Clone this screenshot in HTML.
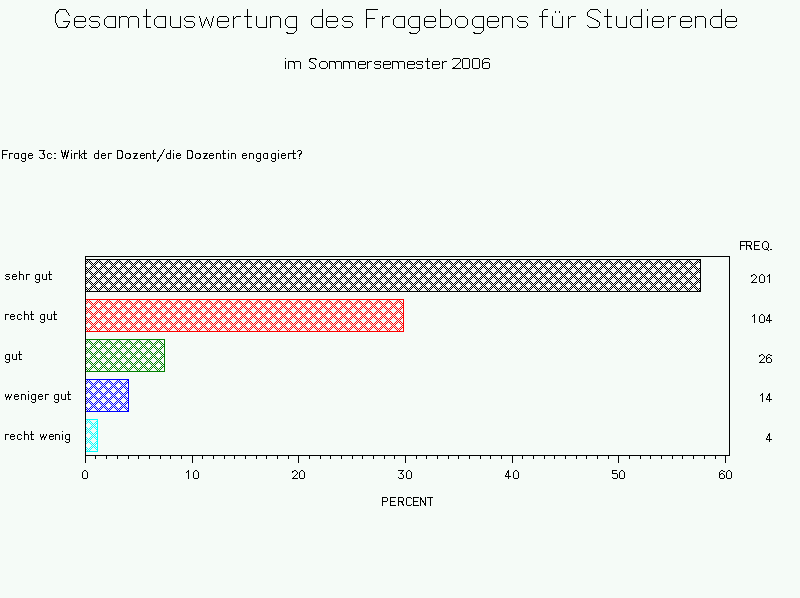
<!DOCTYPE html>
<html><head><meta charset="utf-8"><style>
html,body{margin:0;padding:0;background:#f5fbf7;width:800px;height:598px;overflow:hidden}
svg{display:block}
</style></head><body>
<svg width="800" height="598" viewBox="0 0 800 598" shape-rendering="crispEdges">
<defs><pattern id="p0" patternUnits="userSpaceOnUse" x="0" y="0" width="10" height="10"><path d="M7 0h1v1h-1zM9 0h1v1h-1zM0 1h1v1h-1zM6 1h1v1h-1zM8 1h1v1h-1zM1 2h1v1h-1zM5 2h1v1h-1zM7 2h1v1h-1zM9 2h1v1h-1zM0 3h1v1h-1zM2 3h1v1h-1zM4 3h1v1h-1zM6 3h1v1h-1zM1 4h1v1h-1zM3 4h1v1h-1zM5 4h1v1h-1zM2 5h1v1h-1zM4 5h1v1h-1zM1 6h1v1h-1zM3 6h1v1h-1zM5 6h1v1h-1zM0 7h1v1h-1zM2 7h1v1h-1zM4 7h1v1h-1zM6 7h1v1h-1zM1 8h1v1h-1zM5 8h1v1h-1zM7 8h1v1h-1zM9 8h1v1h-1zM0 9h1v1h-1zM6 9h1v1h-1zM8 9h1v1h-1z" fill="#000000"/></pattern><pattern id="p1" patternUnits="userSpaceOnUse" x="0" y="0" width="10" height="10"><path d="M7 0h1v1h-1zM9 0h1v1h-1zM0 1h1v1h-1zM6 1h1v1h-1zM8 1h1v1h-1zM1 2h1v1h-1zM5 2h1v1h-1zM7 2h1v1h-1zM9 2h1v1h-1zM0 3h1v1h-1zM2 3h1v1h-1zM4 3h1v1h-1zM6 3h1v1h-1zM1 4h1v1h-1zM3 4h1v1h-1zM5 4h1v1h-1zM2 5h1v1h-1zM4 5h1v1h-1zM1 6h1v1h-1zM3 6h1v1h-1zM5 6h1v1h-1zM0 7h1v1h-1zM2 7h1v1h-1zM4 7h1v1h-1zM6 7h1v1h-1zM1 8h1v1h-1zM5 8h1v1h-1zM7 8h1v1h-1zM9 8h1v1h-1zM0 9h1v1h-1zM6 9h1v1h-1zM8 9h1v1h-1z" fill="#ff0000"/></pattern><pattern id="p2" patternUnits="userSpaceOnUse" x="0" y="0" width="10" height="10"><path d="M7 0h1v1h-1zM9 0h1v1h-1zM0 1h1v1h-1zM6 1h1v1h-1zM8 1h1v1h-1zM1 2h1v1h-1zM5 2h1v1h-1zM7 2h1v1h-1zM9 2h1v1h-1zM0 3h1v1h-1zM2 3h1v1h-1zM4 3h1v1h-1zM6 3h1v1h-1zM1 4h1v1h-1zM3 4h1v1h-1zM5 4h1v1h-1zM2 5h1v1h-1zM4 5h1v1h-1zM1 6h1v1h-1zM3 6h1v1h-1zM5 6h1v1h-1zM0 7h1v1h-1zM2 7h1v1h-1zM4 7h1v1h-1zM6 7h1v1h-1zM1 8h1v1h-1zM5 8h1v1h-1zM7 8h1v1h-1zM9 8h1v1h-1zM0 9h1v1h-1zM6 9h1v1h-1zM8 9h1v1h-1z" fill="#008000"/></pattern><pattern id="p3" patternUnits="userSpaceOnUse" x="0" y="0" width="10" height="10"><path d="M7 0h1v1h-1zM9 0h1v1h-1zM0 1h1v1h-1zM6 1h1v1h-1zM8 1h1v1h-1zM1 2h1v1h-1zM5 2h1v1h-1zM7 2h1v1h-1zM9 2h1v1h-1zM0 3h1v1h-1zM2 3h1v1h-1zM4 3h1v1h-1zM6 3h1v1h-1zM1 4h1v1h-1zM3 4h1v1h-1zM5 4h1v1h-1zM2 5h1v1h-1zM4 5h1v1h-1zM1 6h1v1h-1zM3 6h1v1h-1zM5 6h1v1h-1zM0 7h1v1h-1zM2 7h1v1h-1zM4 7h1v1h-1zM6 7h1v1h-1zM1 8h1v1h-1zM5 8h1v1h-1zM7 8h1v1h-1zM9 8h1v1h-1zM0 9h1v1h-1zM6 9h1v1h-1zM8 9h1v1h-1z" fill="#0000ff"/></pattern><pattern id="p4" patternUnits="userSpaceOnUse" x="0" y="0" width="10" height="10"><path d="M7 0h1v1h-1zM9 0h1v1h-1zM0 1h1v1h-1zM6 1h1v1h-1zM8 1h1v1h-1zM1 2h1v1h-1zM5 2h1v1h-1zM7 2h1v1h-1zM9 2h1v1h-1zM0 3h1v1h-1zM2 3h1v1h-1zM4 3h1v1h-1zM6 3h1v1h-1zM1 4h1v1h-1zM3 4h1v1h-1zM5 4h1v1h-1zM2 5h1v1h-1zM4 5h1v1h-1zM1 6h1v1h-1zM3 6h1v1h-1zM5 6h1v1h-1zM0 7h1v1h-1zM2 7h1v1h-1zM4 7h1v1h-1zM6 7h1v1h-1zM1 8h1v1h-1zM5 8h1v1h-1zM7 8h1v1h-1zM9 8h1v1h-1zM0 9h1v1h-1zM6 9h1v1h-1zM8 9h1v1h-1z" fill="#00ffff"/></pattern></defs>
<rect width="800" height="598" fill="#f5fbf7"/>
<rect x="86" y="260" width="614" height="31" fill="url(#p0)"/><path d="M85 259h616v33h-616z M86 260v31h614v-31z" fill="#000000" fill-rule="evenodd"/><rect x="86" y="300" width="317" height="31" fill="url(#p1)"/><path d="M85 299h319v33h-319z M86 300v31h317v-31z" fill="#ff0000" fill-rule="evenodd"/><rect x="86" y="340" width="78" height="31" fill="url(#p2)"/><path d="M85 339h80v33h-80z M86 340v31h78v-31z" fill="#008000" fill-rule="evenodd"/><rect x="86" y="380" width="42" height="31" fill="url(#p3)"/><path d="M85 379h44v33h-44z M86 380v31h42v-31z" fill="#0000ff" fill-rule="evenodd"/><rect x="86" y="420" width="11" height="31" fill="url(#p4)"/><path d="M85 419h13v33h-13z M86 420v31h11v-31z" fill="#00ffff" fill-rule="evenodd"/>
<path d="M85 256h645v200h-645z M86 257v198h643v-198z" fill="#000" fill-rule="evenodd"/>
<path d="M85 456h1v7h-1zM95 456h1v3h-1zM106 456h1v3h-1zM117 456h1v3h-1zM128 456h1v3h-1zM138 456h1v3h-1zM149 456h1v3h-1zM160 456h1v3h-1zM170 456h1v3h-1zM181 456h1v3h-1zM192 456h1v7h-1zM202 456h1v3h-1zM213 456h1v3h-1zM224 456h1v3h-1zM234 456h1v3h-1zM245 456h1v3h-1zM256 456h1v3h-1zM266 456h1v3h-1zM277 456h1v3h-1zM288 456h1v3h-1zM298 456h1v7h-1zM309 456h1v3h-1zM320 456h1v3h-1zM330 456h1v3h-1zM341 456h1v3h-1zM352 456h1v3h-1zM362 456h1v3h-1zM373 456h1v3h-1zM384 456h1v3h-1zM394 456h1v3h-1zM405 456h1v7h-1zM416 456h1v3h-1zM426 456h1v3h-1zM437 456h1v3h-1zM448 456h1v3h-1zM458 456h1v3h-1zM469 456h1v3h-1zM480 456h1v3h-1zM490 456h1v3h-1zM501 456h1v3h-1zM512 456h1v7h-1zM522 456h1v3h-1zM533 456h1v3h-1zM544 456h1v3h-1zM554 456h1v3h-1zM565 456h1v3h-1zM576 456h1v3h-1zM586 456h1v3h-1zM597 456h1v3h-1zM608 456h1v3h-1zM618 456h1v7h-1zM629 456h1v3h-1zM640 456h1v3h-1zM650 456h1v3h-1zM661 456h1v3h-1zM672 456h1v3h-1zM682 456h1v3h-1zM693 456h1v3h-1zM704 456h1v3h-1zM715 456h1v3h-1zM725 456h1v7h-1z" fill="#000"/>
<path d="M453 58h7v1h-7zM452 59h1v1h-1zM460 59h1v1h-1zM460 60h1v1h-1zM460 61h1v1h-1zM459 62h1v1h-1zM458 63h1v1h-1zM457 64h1v1h-1zM456 65h1v1h-1zM455 66h1v1h-1zM453 67h2v1h-2zM452 68h9v1h-9zM463 58h6v1h-6zM462 59h1v1h-1zM469 59h1v1h-1zM462 60h1v1h-1zM469 60h1v1h-1zM462 61h1v1h-1zM469 61h1v1h-1zM462 62h1v1h-1zM469 62h1v1h-1zM462 63h1v1h-1zM469 63h1v1h-1zM462 64h1v1h-1zM469 64h1v1h-1zM462 65h1v1h-1zM469 65h1v1h-1zM462 66h1v1h-1zM469 66h1v1h-1zM462 67h1v1h-1zM469 67h1v1h-1zM463 68h6v1h-6zM473 58h6v1h-6zM472 59h1v1h-1zM479 59h1v1h-1zM472 60h1v1h-1zM479 60h1v1h-1zM472 61h1v1h-1zM479 61h1v1h-1zM472 62h1v1h-1zM479 62h1v1h-1zM472 63h1v1h-1zM479 63h1v1h-1zM472 64h1v1h-1zM479 64h1v1h-1zM472 65h1v1h-1zM479 65h1v1h-1zM472 66h1v1h-1zM479 66h1v1h-1zM472 67h1v1h-1zM479 67h1v1h-1zM473 68h6v1h-6zM484 58h5v1h-5zM483 59h1v1h-1zM489 59h1v1h-1zM482 60h1v1h-1zM482 61h1v1h-1zM482 62h1v1h-1zM484 62h5v1h-5zM482 63h2v1h-2zM489 63h1v1h-1zM482 64h1v1h-1zM489 64h1v1h-1zM482 65h1v1h-1zM489 65h1v1h-1zM482 66h1v1h-1zM489 66h1v1h-1zM482 67h1v1h-1zM489 67h1v1h-1zM483 68h6v1h-6zM753 274h2v1h-2zM751 275h2v1h-2zM755 275h1v1h-1zM751 276h1v1h-1zM756 276h1v1h-1zM756 277h1v1h-1zM755 278h1v1h-1zM754 279h1v1h-1zM753 280h1v1h-1zM752 281h1v1h-1zM751 282h6v1h-6zM761 274h2v1h-2zM760 275h1v1h-1zM763 275h1v1h-1zM759 276h1v1h-1zM764 276h1v1h-1zM759 277h1v1h-1zM764 277h1v1h-1zM759 278h1v1h-1zM764 278h1v1h-1zM759 279h1v1h-1zM764 279h1v1h-1zM759 280h1v1h-1zM764 280h1v1h-1zM759 281h1v1h-1zM764 281h1v1h-1zM760 282h4v1h-4zM769 274h1v1h-1zM768 275h2v1h-2zM767 276h1v1h-1zM769 276h1v1h-1zM769 277h1v1h-1zM769 278h1v1h-1zM769 279h1v1h-1zM769 280h1v1h-1zM769 281h1v1h-1zM769 282h1v1h-1zM754 314h1v1h-1zM753 315h2v1h-2zM752 316h1v1h-1zM754 316h1v1h-1zM754 317h1v1h-1zM754 318h1v1h-1zM754 319h1v1h-1zM754 320h1v1h-1zM754 321h1v1h-1zM754 322h1v1h-1zM761 314h2v1h-2zM760 315h1v1h-1zM763 315h1v1h-1zM759 316h1v1h-1zM764 316h1v1h-1zM759 317h1v1h-1zM764 317h1v1h-1zM759 318h1v1h-1zM764 318h1v1h-1zM759 319h1v1h-1zM764 319h1v1h-1zM759 320h1v1h-1zM764 320h1v1h-1zM759 321h1v1h-1zM764 321h1v1h-1zM760 322h4v1h-4zM769 314h1v1h-1zM768 315h2v1h-2zM768 316h2v1h-2zM767 317h1v1h-1zM769 317h1v1h-1zM767 318h1v1h-1zM769 318h1v1h-1zM766 319h1v1h-1zM769 319h1v1h-1zM766 320h6v1h-6zM769 321h1v1h-1zM769 322h1v1h-1zM761 354h2v1h-2zM759 355h2v1h-2zM763 355h1v1h-1zM759 356h1v1h-1zM764 356h1v1h-1zM764 357h1v1h-1zM763 358h1v1h-1zM762 359h1v1h-1zM761 360h1v1h-1zM760 361h1v1h-1zM759 362h6v1h-6zM768 354h2v1h-2zM767 355h1v1h-1zM770 355h2v1h-2zM766 356h1v1h-1zM766 357h1v1h-1zM768 357h2v1h-2zM766 358h2v1h-2zM770 358h1v1h-1zM766 359h1v1h-1zM771 359h1v1h-1zM766 360h1v1h-1zM771 360h1v1h-1zM766 361h1v1h-1zM771 361h1v1h-1zM767 362h4v1h-4zM762 393h1v1h-1zM761 394h2v1h-2zM760 395h1v1h-1zM762 395h1v1h-1zM762 396h1v1h-1zM762 397h1v1h-1zM762 398h1v1h-1zM762 399h1v1h-1zM762 400h1v1h-1zM762 401h1v1h-1zM769 393h1v1h-1zM768 394h2v1h-2zM768 395h2v1h-2zM767 396h1v1h-1zM769 396h1v1h-1zM767 397h1v1h-1zM769 397h1v1h-1zM766 398h1v1h-1zM769 398h1v1h-1zM766 399h6v1h-6zM769 400h1v1h-1zM769 401h1v1h-1zM769 433h1v1h-1zM768 434h2v1h-2zM768 435h2v1h-2zM767 436h1v1h-1zM769 436h1v1h-1zM767 437h1v1h-1zM769 437h1v1h-1zM766 438h1v1h-1zM769 438h1v1h-1zM766 439h6v1h-6zM769 440h1v1h-1zM769 441h1v1h-1zM84 470h2v1h-2zM83 471h1v1h-1zM86 471h1v1h-1zM82 472h1v1h-1zM87 472h1v1h-1zM82 473h1v1h-1zM87 473h1v1h-1zM82 474h1v1h-1zM87 474h1v1h-1zM82 475h1v1h-1zM87 475h1v1h-1zM82 476h1v1h-1zM87 476h1v1h-1zM82 477h1v1h-1zM87 477h1v1h-1zM83 478h4v1h-4zM188 470h1v1h-1zM187 471h2v1h-2zM186 472h1v1h-1zM188 472h1v1h-1zM188 473h1v1h-1zM188 474h1v1h-1zM188 475h1v1h-1zM188 476h1v1h-1zM188 477h1v1h-1zM188 478h1v1h-1zM195 470h2v1h-2zM194 471h1v1h-1zM197 471h1v1h-1zM193 472h1v1h-1zM198 472h1v1h-1zM193 473h1v1h-1zM198 473h1v1h-1zM193 474h1v1h-1zM198 474h1v1h-1zM193 475h1v1h-1zM198 475h1v1h-1zM193 476h1v1h-1zM198 476h1v1h-1zM193 477h1v1h-1zM198 477h1v1h-1zM194 478h4v1h-4zM294 470h2v1h-2zM292 471h2v1h-2zM296 471h1v1h-1zM292 472h1v1h-1zM297 472h1v1h-1zM297 473h1v1h-1zM296 474h1v1h-1zM295 475h1v1h-1zM294 476h1v1h-1zM293 477h1v1h-1zM292 478h6v1h-6zM301 470h2v1h-2zM300 471h1v1h-1zM303 471h1v1h-1zM299 472h1v1h-1zM304 472h1v1h-1zM299 473h1v1h-1zM304 473h1v1h-1zM299 474h1v1h-1zM304 474h1v1h-1zM299 475h1v1h-1zM304 475h1v1h-1zM299 476h1v1h-1zM304 476h1v1h-1zM299 477h1v1h-1zM304 477h1v1h-1zM300 478h4v1h-4zM398 470h6v1h-6zM402 471h1v1h-1zM401 472h1v1h-1zM400 473h2v1h-2zM402 474h1v1h-1zM403 475h1v1h-1zM403 476h1v1h-1zM398 477h1v1h-1zM403 477h1v1h-1zM399 478h4v1h-4zM408 470h2v1h-2zM407 471h1v1h-1zM410 471h1v1h-1zM406 472h1v1h-1zM411 472h1v1h-1zM406 473h1v1h-1zM411 473h1v1h-1zM406 474h1v1h-1zM411 474h1v1h-1zM406 475h1v1h-1zM411 475h1v1h-1zM406 476h1v1h-1zM411 476h1v1h-1zM406 477h1v1h-1zM411 477h1v1h-1zM407 478h4v1h-4zM508 470h1v1h-1zM507 471h2v1h-2zM507 472h2v1h-2zM506 473h1v1h-1zM508 473h1v1h-1zM506 474h1v1h-1zM508 474h1v1h-1zM505 475h1v1h-1zM508 475h1v1h-1zM505 476h6v1h-6zM508 477h1v1h-1zM508 478h1v1h-1zM515 470h2v1h-2zM514 471h1v1h-1zM517 471h1v1h-1zM513 472h1v1h-1zM518 472h1v1h-1zM513 473h1v1h-1zM518 473h1v1h-1zM513 474h1v1h-1zM518 474h1v1h-1zM513 475h1v1h-1zM518 475h1v1h-1zM513 476h1v1h-1zM518 476h1v1h-1zM513 477h1v1h-1zM518 477h1v1h-1zM514 478h4v1h-4zM612 470h5v1h-5zM612 471h1v1h-1zM612 472h1v1h-1zM612 473h5v1h-5zM617 474h1v1h-1zM617 475h1v1h-1zM617 476h1v1h-1zM612 477h1v1h-1zM617 477h1v1h-1zM613 478h4v1h-4zM621 470h2v1h-2zM620 471h1v1h-1zM623 471h1v1h-1zM619 472h1v1h-1zM624 472h1v1h-1zM619 473h1v1h-1zM624 473h1v1h-1zM619 474h1v1h-1zM624 474h1v1h-1zM619 475h1v1h-1zM624 475h1v1h-1zM619 476h1v1h-1zM624 476h1v1h-1zM619 477h1v1h-1zM624 477h1v1h-1zM620 478h4v1h-4zM721 470h2v1h-2zM720 471h1v1h-1zM723 471h2v1h-2zM719 472h1v1h-1zM719 473h1v1h-1zM721 473h2v1h-2zM719 474h2v1h-2zM723 474h1v1h-1zM719 475h1v1h-1zM724 475h1v1h-1zM719 476h1v1h-1zM724 476h1v1h-1zM719 477h1v1h-1zM724 477h1v1h-1zM720 478h4v1h-4zM728 470h2v1h-2zM727 471h1v1h-1zM730 471h1v1h-1zM726 472h1v1h-1zM731 472h1v1h-1zM726 473h1v1h-1zM731 473h1v1h-1zM726 474h1v1h-1zM731 474h1v1h-1zM726 475h1v1h-1zM731 475h1v1h-1zM726 476h1v1h-1zM731 476h1v1h-1zM726 477h1v1h-1zM731 477h1v1h-1zM727 478h4v1h-4z" fill="#000"/>
<path d="M69.5 15.5L65.5 9.5L59.5 9.5L55.5 14.5L55.5 22.5L58.5 27.5L66.5 27.5L69.5 22.5L69.5 21.5L63.5 21.5M85.5 25.5L83.5 27.5L76.5 27.5L74.5 25.5L74.5 18.5L76.5 16.5L83.5 16.5L85.5 18.5L85.5 21.5L74.5 21.5M99.5 17.5L98.5 16.5L91.5 16.5L89.5 18.5L89.5 19.5L91.5 21.5L97.5 21.5L99.5 23.5L99.5 25.5L97.5 27.5L91.5 27.5L89.5 25.5M115.5 16.5L107.5 16.5L104.5 19.5L104.5 24.5L107.5 27.5L115.5 27.5M115.5 16.5L115.5 27.5M119.5 27.5L119.5 16.5M119.5 18.5L121.5 16.5L126.5 16.5L128.5 18.5L128.5 27.5M128.5 18.5L130.5 16.5L136.5 16.5L138.5 18.5L138.5 27.5M146.5 9.5L146.5 27.5L150.5 27.5M143.5 16.5L150.5 16.5M165.5 16.5L157.5 16.5L154.5 19.5L154.5 24.5L157.5 27.5L165.5 27.5M165.5 16.5L165.5 27.5M170.5 16.5L170.5 25.5L172.5 27.5L180.5 27.5M180.5 16.5L180.5 27.5M194.5 17.5L193.5 16.5L186.5 16.5L184.5 18.5L184.5 19.5L186.5 21.5L192.5 21.5L194.5 23.5L194.5 25.5L192.5 27.5L186.5 27.5L184.5 25.5M199.5 16.5L202.5 27.5L206.5 17.5L210.5 27.5L213.5 16.5M228.5 25.5L226.5 27.5L219.5 27.5L217.5 25.5L217.5 18.5L219.5 16.5L226.5 16.5L228.5 18.5L228.5 21.5L217.5 21.5M233.5 27.5L233.5 16.5M233.5 19.5L236.5 16.5L240.5 16.5M247.5 9.5L247.5 27.5L251.5 27.5M244.5 16.5L251.5 16.5M256.5 16.5L256.5 25.5L258.5 27.5L266.5 27.5M266.5 16.5L266.5 27.5M270.5 27.5L270.5 16.5M270.5 18.5L272.5 16.5L278.5 16.5L280.5 18.5L280.5 27.5M296.5 16.5L288.5 16.5L285.5 19.5L285.5 24.5L288.5 27.5L296.5 27.5M296.5 16.5L296.5 30.5L293.5 33.5L288.5 33.5L286.5 32.5M322.5 9.5L322.5 27.5M322.5 16.5L314.5 16.5L311.5 19.5L311.5 24.5L314.5 27.5L322.5 27.5M337.5 25.5L335.5 27.5L328.5 27.5L326.5 25.5L326.5 18.5L328.5 16.5L335.5 16.5L337.5 18.5L337.5 21.5L326.5 21.5M352.5 17.5L351.5 16.5L344.5 16.5L342.5 18.5L342.5 19.5L344.5 21.5L350.5 21.5L352.5 23.5L352.5 25.5L350.5 27.5L344.5 27.5L342.5 25.5M377.5 9.5L366.5 9.5L366.5 27.5M366.5 18.5L374.5 18.5M382.5 27.5L382.5 16.5M382.5 19.5L385.5 16.5L389.5 16.5M404.5 16.5L396.5 16.5L393.5 19.5L393.5 24.5L396.5 27.5L404.5 27.5M404.5 16.5L404.5 27.5M419.5 16.5L411.5 16.5L408.5 19.5L408.5 24.5L411.5 27.5L419.5 27.5M419.5 16.5L419.5 30.5L416.5 33.5L411.5 33.5L409.5 32.5M435.5 25.5L433.5 27.5L426.5 27.5L424.5 25.5L424.5 18.5L426.5 16.5L433.5 16.5L435.5 18.5L435.5 21.5L424.5 21.5M440.5 9.5L440.5 27.5M440.5 16.5L448.5 16.5L451.5 19.5L451.5 24.5L448.5 27.5L440.5 27.5M458.5 16.5L464.5 16.5L467.5 19.5L467.5 24.5L464.5 27.5L458.5 27.5L455.5 24.5L455.5 19.5L458.5 16.5M483.5 16.5L475.5 16.5L472.5 19.5L472.5 24.5L475.5 27.5L483.5 27.5M483.5 16.5L483.5 30.5L480.5 33.5L475.5 33.5L473.5 32.5M498.5 25.5L496.5 27.5L489.5 27.5L487.5 25.5L487.5 18.5L489.5 16.5L496.5 16.5L498.5 18.5L498.5 21.5L487.5 21.5M502.5 27.5L502.5 16.5M502.5 18.5L504.5 16.5L510.5 16.5L512.5 18.5L512.5 27.5M527.5 17.5L526.5 16.5L519.5 16.5L517.5 18.5L517.5 19.5L519.5 21.5L525.5 21.5L527.5 23.5L527.5 25.5L525.5 27.5L519.5 27.5L517.5 25.5M542.5 27.5L542.5 11.5L544.5 9.5L547.5 9.5M539.5 16.5L547.5 16.5M552.5 16.5L552.5 25.5L554.5 27.5L562.5 27.5M562.5 16.5L562.5 27.5M555.5 12.5L555.5 11.5M559.5 12.5L559.5 11.5M568.5 27.5L568.5 16.5M568.5 19.5L571.5 16.5L575.5 16.5M600.5 12.5L597.5 9.5L590.5 9.5L587.5 12.5L587.5 15.5L588.5 16.5L595.5 19.5L599.5 22.5L599.5 25.5L597.5 27.5L589.5 27.5L587.5 25.5M607.5 9.5L607.5 27.5L611.5 27.5M604.5 16.5L611.5 16.5M616.5 16.5L616.5 25.5L618.5 27.5L626.5 27.5M626.5 16.5L626.5 27.5M641.5 9.5L641.5 27.5M641.5 16.5L633.5 16.5L630.5 19.5L630.5 24.5L633.5 27.5L641.5 27.5M647.5 27.5L647.5 16.5M647.5 10.5L647.5 9.5M663.5 25.5L661.5 27.5L654.5 27.5L652.5 25.5L652.5 18.5L654.5 16.5L661.5 16.5L663.5 18.5L663.5 21.5L652.5 21.5M668.5 27.5L668.5 16.5M668.5 19.5L671.5 16.5L675.5 16.5M691.5 25.5L689.5 27.5L682.5 27.5L680.5 25.5L680.5 18.5L682.5 16.5L689.5 16.5L691.5 18.5L691.5 21.5L680.5 21.5M695.5 27.5L695.5 16.5M695.5 18.5L697.5 16.5L703.5 16.5L705.5 18.5L705.5 27.5M721.5 9.5L721.5 27.5M721.5 16.5L713.5 16.5L710.5 19.5L710.5 24.5L713.5 27.5L721.5 27.5M736.5 25.5L734.5 27.5L727.5 27.5L725.5 25.5L725.5 18.5L727.5 16.5L734.5 16.5L736.5 18.5L736.5 21.5L725.5 21.5M285.5 68.5L285.5 61.5M285.5 58.5L285.5 58.5M288.5 68.5L288.5 61.5M288.5 62.5L289.5 61.5L292.5 61.5L294.5 62.5L294.5 68.5M294.5 62.5L295.5 61.5L299.5 61.5L300.5 62.5L300.5 68.5M316.5 59.5L314.5 58.5L311.5 58.5L309.5 59.5L309.5 61.5L310.5 61.5L313.5 63.5L315.5 65.5L315.5 67.5L314.5 68.5L310.5 68.5L309.5 67.5M321.5 61.5L325.5 61.5L327.5 63.5L327.5 66.5L325.5 68.5L321.5 68.5L319.5 66.5L319.5 63.5L321.5 61.5M329.5 68.5L329.5 61.5M329.5 62.5L330.5 61.5L333.5 61.5L335.5 62.5L335.5 68.5M335.5 62.5L336.5 61.5L340.5 61.5L341.5 62.5L341.5 68.5M343.5 68.5L343.5 61.5M343.5 62.5L344.5 61.5L347.5 61.5L349.5 62.5L349.5 68.5M349.5 62.5L350.5 61.5L354.5 61.5L355.5 62.5L355.5 68.5M365.5 67.5L364.5 68.5L359.5 68.5L358.5 67.5L358.5 62.5L359.5 61.5L364.5 61.5L365.5 62.5L365.5 64.5L358.5 64.5M367.5 68.5L367.5 61.5M367.5 63.5L369.5 61.5L371.5 61.5M380.5 62.5L380.5 61.5L375.5 61.5L374.5 62.5L374.5 63.5L375.5 64.5L379.5 64.5L380.5 65.5L380.5 67.5L379.5 68.5L375.5 68.5L374.5 67.5M390.5 67.5L389.5 68.5L384.5 68.5L383.5 67.5L383.5 62.5L384.5 61.5L389.5 61.5L390.5 62.5L390.5 64.5L383.5 64.5M392.5 68.5L392.5 61.5M392.5 62.5L393.5 61.5L396.5 61.5L398.5 62.5L398.5 68.5M398.5 62.5L399.5 61.5L403.5 61.5L404.5 62.5L404.5 68.5M414.5 67.5L413.5 68.5L408.5 68.5L407.5 67.5L407.5 62.5L408.5 61.5L413.5 61.5L414.5 62.5L414.5 64.5L407.5 64.5M422.5 62.5L422.5 61.5L417.5 61.5L416.5 62.5L416.5 63.5L417.5 64.5L421.5 64.5L422.5 65.5L422.5 67.5L421.5 68.5L417.5 68.5L416.5 67.5M427.5 58.5L427.5 68.5L429.5 68.5M425.5 61.5L429.5 61.5M439.5 67.5L438.5 68.5L433.5 68.5L432.5 67.5L432.5 62.5L433.5 61.5L438.5 61.5L439.5 62.5L439.5 64.5L432.5 64.5M442.5 68.5L442.5 61.5M442.5 63.5L444.5 61.5L446.5 61.5M7.5 150.5L2.5 150.5L2.5 158.5M2.5 154.5L6.5 154.5M9.5 158.5L9.5 153.5M9.5 154.5L10.5 153.5L12.5 153.5M18.5 153.5L15.5 153.5L14.5 154.5L14.5 157.5L15.5 158.5L18.5 158.5M18.5 153.5L18.5 158.5M25.5 153.5L22.5 153.5L21.5 154.5L21.5 157.5L22.5 158.5L25.5 158.5M25.5 153.5L25.5 160.5L24.5 161.5L22.5 161.5L21.5 160.5M32.5 157.5L31.5 158.5L29.5 158.5L28.5 157.5L28.5 154.5L29.5 153.5L31.5 153.5L32.5 154.5L32.5 155.5L28.5 155.5M39.5 150.5L44.5 150.5L42.5 153.5L43.5 153.5L44.5 155.5L44.5 157.5L43.5 158.5L40.5 158.5L39.5 157.5M51.5 154.5L50.5 153.5L48.5 153.5L47.5 154.5L47.5 157.5L48.5 158.5L50.5 158.5L51.5 157.5M54.5 158.5L55.5 158.5M54.5 153.5L55.5 153.5M61.5 150.5L63.5 158.5L65.5 150.5L66.5 158.5L68.5 150.5M71.5 158.5L71.5 153.5M71.5 150.5L71.5 150.5M74.5 158.5L74.5 153.5M74.5 154.5L75.5 153.5L77.5 153.5M79.5 150.5L79.5 158.5M82.5 153.5L79.5 156.5M80.5 155.5L82.5 158.5M84.5 150.5L84.5 158.5L86.5 158.5M83.5 153.5L86.5 153.5M98.5 150.5L98.5 158.5M98.5 153.5L95.5 153.5L94.5 154.5L94.5 157.5L95.5 158.5L98.5 158.5M105.5 157.5L104.5 158.5L102.5 158.5L101.5 157.5L101.5 154.5L102.5 153.5L104.5 153.5L105.5 154.5L105.5 155.5L101.5 155.5M108.5 158.5L108.5 153.5M108.5 154.5L109.5 153.5L111.5 153.5M117.5 158.5L117.5 150.5L121.5 150.5L122.5 152.5L122.5 156.5L121.5 158.5L117.5 158.5M126.5 153.5L128.5 153.5L130.5 154.5L130.5 157.5L128.5 158.5L126.5 158.5L125.5 157.5L125.5 154.5L126.5 153.5M133.5 153.5L137.5 153.5L133.5 158.5L137.5 158.5M144.5 157.5L143.5 158.5L141.5 158.5L140.5 157.5L140.5 154.5L141.5 153.5L143.5 153.5L144.5 154.5L144.5 155.5L140.5 155.5M146.5 158.5L146.5 153.5M146.5 154.5L147.5 153.5L149.5 153.5L150.5 154.5L150.5 158.5M153.5 150.5L153.5 158.5L155.5 158.5M152.5 153.5L155.5 153.5M157.5 161.5L164.5 149.5M170.5 150.5L170.5 158.5M170.5 153.5L167.5 153.5L166.5 154.5L166.5 157.5L167.5 158.5L170.5 158.5M173.5 158.5L173.5 153.5M173.5 150.5L173.5 150.5M180.5 157.5L179.5 158.5L177.5 158.5L176.5 157.5L176.5 154.5L177.5 153.5L179.5 153.5L180.5 154.5L180.5 155.5L176.5 155.5M187.5 158.5L187.5 150.5L191.5 150.5L192.5 152.5L192.5 156.5L191.5 158.5L187.5 158.5M196.5 153.5L198.5 153.5L200.5 154.5L200.5 157.5L198.5 158.5L196.5 158.5L195.5 157.5L195.5 154.5L196.5 153.5M203.5 153.5L207.5 153.5L203.5 158.5L207.5 158.5M213.5 157.5L212.5 158.5L210.5 158.5L209.5 157.5L209.5 154.5L210.5 153.5L212.5 153.5L213.5 154.5L213.5 155.5L209.5 155.5M216.5 158.5L216.5 153.5M216.5 154.5L217.5 153.5L219.5 153.5L220.5 154.5L220.5 158.5M223.5 150.5L223.5 158.5L225.5 158.5M222.5 153.5L225.5 153.5M228.5 158.5L228.5 153.5M228.5 150.5L228.5 150.5M231.5 158.5L231.5 153.5M231.5 154.5L232.5 153.5L234.5 153.5L235.5 154.5L235.5 158.5M246.5 157.5L245.5 158.5L243.5 158.5L242.5 157.5L242.5 154.5L243.5 153.5L245.5 153.5L246.5 154.5L246.5 155.5L242.5 155.5M249.5 158.5L249.5 153.5M249.5 154.5L250.5 153.5L252.5 153.5L253.5 154.5L253.5 158.5M260.5 153.5L257.5 153.5L256.5 154.5L256.5 157.5L257.5 158.5L260.5 158.5M260.5 153.5L260.5 160.5L259.5 161.5L257.5 161.5L256.5 160.5M267.5 153.5L264.5 153.5L263.5 154.5L263.5 157.5L264.5 158.5L267.5 158.5M267.5 153.5L267.5 158.5M275.5 153.5L272.5 153.5L271.5 154.5L271.5 157.5L272.5 158.5L275.5 158.5M275.5 153.5L275.5 160.5L274.5 161.5L272.5 161.5L271.5 160.5M278.5 158.5L278.5 153.5M278.5 150.5L278.5 150.5M285.5 157.5L284.5 158.5L282.5 158.5L281.5 157.5L281.5 154.5L282.5 153.5L284.5 153.5L285.5 154.5L285.5 155.5L281.5 155.5M288.5 158.5L288.5 153.5M288.5 154.5L289.5 153.5L291.5 153.5M293.5 150.5L293.5 158.5L295.5 158.5M292.5 153.5L295.5 153.5M297.5 151.5L298.5 150.5L300.5 150.5L301.5 151.5L301.5 153.5L299.5 154.5L299.5 156.5M299.5 158.5L299.5 158.5M9.5 274.5L8.5 274.5L6.5 274.5L5.5 275.5L5.5 275.5L6.5 276.5L8.5 276.5L9.5 277.5L9.5 278.5L8.5 279.5L6.5 279.5L5.5 278.5M16.5 278.5L15.5 279.5L13.5 279.5L12.5 278.5L12.5 275.5L13.5 274.5L15.5 274.5L16.5 275.5L16.5 276.5L12.5 276.5M19.5 271.5L19.5 279.5M19.5 275.5L20.5 274.5L22.5 274.5L23.5 275.5L23.5 279.5M26.5 279.5L26.5 274.5M26.5 275.5L27.5 274.5L29.5 274.5M39.5 274.5L36.5 274.5L35.5 275.5L35.5 278.5L36.5 279.5L39.5 279.5M39.5 274.5L39.5 281.5L38.5 282.5L36.5 282.5L35.5 281.5M42.5 274.5L42.5 278.5L43.5 279.5L46.5 279.5M46.5 274.5L46.5 279.5M49.5 271.5L49.5 279.5L51.5 279.5M48.5 274.5L51.5 274.5M5.5 319.5L5.5 314.5M5.5 315.5L6.5 314.5L8.5 314.5M14.5 318.5L13.5 319.5L11.5 319.5L10.5 318.5L10.5 315.5L11.5 314.5L13.5 314.5L14.5 315.5L14.5 316.5L10.5 316.5M21.5 315.5L20.5 314.5L18.5 314.5L17.5 315.5L17.5 318.5L18.5 319.5L20.5 319.5L21.5 318.5M24.5 311.5L24.5 319.5M24.5 315.5L25.5 314.5L27.5 314.5L28.5 315.5L28.5 319.5M31.5 311.5L31.5 319.5L33.5 319.5M30.5 314.5L33.5 314.5M44.5 314.5L41.5 314.5L40.5 315.5L40.5 318.5L41.5 319.5L44.5 319.5M44.5 314.5L44.5 321.5L43.5 322.5L41.5 322.5L40.5 321.5M47.5 314.5L47.5 318.5L48.5 319.5L51.5 319.5M51.5 314.5L51.5 319.5M54.5 311.5L54.5 319.5L56.5 319.5M53.5 314.5L56.5 314.5M9.5 354.5L6.5 354.5L5.5 355.5L5.5 358.5L6.5 359.5L9.5 359.5M9.5 354.5L9.5 361.5L8.5 362.5L6.5 362.5L5.5 361.5M12.5 354.5L12.5 358.5L13.5 359.5L16.5 359.5M16.5 354.5L16.5 359.5M19.5 351.5L19.5 359.5L21.5 359.5M18.5 354.5L21.5 354.5M5.5 394.5L6.5 399.5L8.5 394.5L9.5 399.5L11.5 394.5M18.5 398.5L17.5 399.5L15.5 399.5L14.5 398.5L14.5 395.5L15.5 394.5L17.5 394.5L18.5 395.5L18.5 396.5L14.5 396.5M21.5 399.5L21.5 394.5M21.5 395.5L22.5 394.5L24.5 394.5L25.5 395.5L25.5 399.5M28.5 399.5L28.5 394.5M28.5 391.5L28.5 391.5M35.5 394.5L32.5 394.5L31.5 395.5L31.5 398.5L32.5 399.5L35.5 399.5M35.5 394.5L35.5 401.5L34.5 402.5L32.5 402.5L31.5 401.5M42.5 398.5L41.5 399.5L39.5 399.5L38.5 398.5L38.5 395.5L39.5 394.5L41.5 394.5L42.5 395.5L42.5 396.5L38.5 396.5M45.5 399.5L45.5 394.5M45.5 395.5L46.5 394.5L48.5 394.5M58.5 394.5L55.5 394.5L54.5 395.5L54.5 398.5L55.5 399.5L58.5 399.5M58.5 394.5L58.5 401.5L57.5 402.5L55.5 402.5L54.5 401.5M61.5 394.5L61.5 398.5L62.5 399.5L65.5 399.5M65.5 394.5L65.5 399.5M68.5 391.5L68.5 399.5L70.5 399.5M67.5 394.5L70.5 394.5M5.5 439.5L5.5 434.5M5.5 435.5L6.5 434.5L8.5 434.5M14.5 438.5L13.5 439.5L11.5 439.5L10.5 438.5L10.5 435.5L11.5 434.5L13.5 434.5L14.5 435.5L14.5 436.5L10.5 436.5M21.5 435.5L20.5 434.5L18.5 434.5L17.5 435.5L17.5 438.5L18.5 439.5L20.5 439.5L21.5 438.5M24.5 431.5L24.5 439.5M24.5 435.5L25.5 434.5L27.5 434.5L28.5 435.5L28.5 439.5M31.5 431.5L31.5 439.5L33.5 439.5M30.5 434.5L33.5 434.5M40.5 434.5L41.5 439.5L43.5 434.5L44.5 439.5L46.5 434.5M53.5 438.5L52.5 439.5L50.5 439.5L49.5 438.5L49.5 435.5L50.5 434.5L52.5 434.5L53.5 435.5L53.5 436.5L49.5 436.5M55.5 439.5L55.5 434.5M55.5 435.5L56.5 434.5L58.5 434.5L59.5 435.5L59.5 439.5M62.5 439.5L62.5 434.5M62.5 431.5L62.5 431.5M69.5 434.5L66.5 434.5L65.5 435.5L65.5 438.5L66.5 439.5L69.5 439.5M69.5 434.5L69.5 441.5L68.5 442.5L66.5 442.5L65.5 441.5M745.5 241.5L740.5 241.5L740.5 249.5M740.5 245.5L744.5 245.5M746.5 249.5L746.5 241.5L750.5 241.5L751.5 242.5L751.5 244.5L750.5 245.5L746.5 245.5M749.5 245.5L751.5 249.5M759.5 241.5L754.5 241.5L754.5 249.5L759.5 249.5M754.5 245.5L758.5 245.5M764.5 241.5L766.5 241.5L768.5 243.5L768.5 247.5L766.5 249.5L764.5 249.5L762.5 247.5L762.5 243.5L764.5 241.5M766.5 247.5L768.5 250.5M770.5 249.5L771.5 249.5M382.5 505.5L382.5 497.5L386.5 497.5L387.5 498.5L387.5 500.5L386.5 501.5L382.5 501.5M395.5 497.5L390.5 497.5L390.5 505.5L395.5 505.5M390.5 501.5L394.5 501.5M398.5 505.5L398.5 497.5L402.5 497.5L403.5 498.5L403.5 500.5L402.5 501.5L398.5 501.5M401.5 501.5L403.5 505.5M411.5 498.5L410.5 497.5L407.5 497.5L406.5 498.5L406.5 504.5L407.5 505.5L410.5 505.5L411.5 504.5M418.5 497.5L413.5 497.5L413.5 505.5L418.5 505.5M413.5 501.5L417.5 501.5M420.5 505.5L420.5 497.5L425.5 505.5L425.5 497.5M427.5 497.5L432.5 497.5M430.5 497.5L430.5 505.5" fill="none" stroke="#000" stroke-width="1" stroke-linecap="round" stroke-linejoin="round"/>
</svg>
</body></html>
